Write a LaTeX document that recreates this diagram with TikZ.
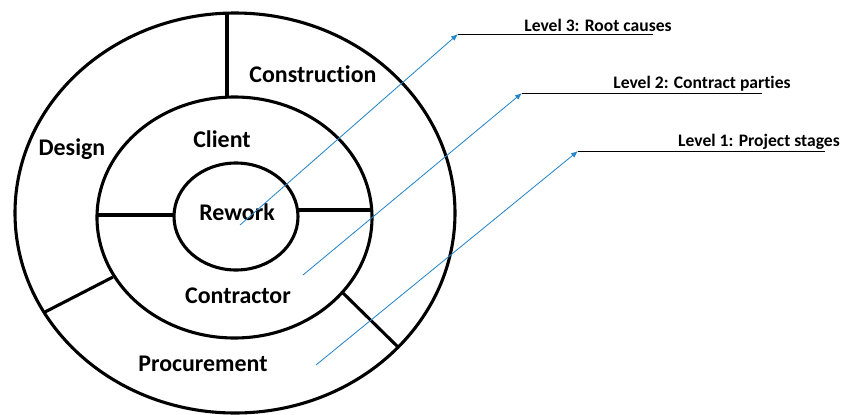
\documentclass[tikz,border=0pt]{standalone}
\usepackage{fontspec}
\setmainfont{Carlito}[Ligatures=NoCommon]
\usetikzlibrary{arrows.meta}
\definecolor{leaderblue}{RGB}{38,134,201}

\tikzset{
  ring/.style={line width=2.2pt},
  partname/.style={font=\fontsize{17}{20}\selectfont\bfseries, inner sep=0pt, anchor=base},
  levelname/.style={font=\fontsize{12.5}{15}\selectfont\bfseries, inner sep=0pt, anchor=base},
  leader/.style={leaderblue, line width=0.6pt, -{Latex[length=5pt,width=4pt]}},
  baseline rule/.style={line width=0.7pt}
}

\begin{document}
\begin{tikzpicture}[x=0.025cm,y=-0.025cm]
  \useasboundingbox (0,0) rectangle (844,415);
  \draw[ring] (235,213) ellipse [x radius=220, y radius=200];
  \draw[ring] (234.5,217.5) ellipse [x radius=137.5, y radius=120.5];
  \draw[ring] (236,216.5) ellipse [x radius=62, y radius=53.5];
  \draw[ring] (227,13) -- (227,97);
  \draw[ring] (97,215) -- (174,215);
  \draw[ring] (298,210) -- (372,210);
  \draw[ring] (113,277) -- (45,312);
  \draw[ring] (343,293) -- (398,347);

  \node[partname] (construction) at (313,82) {Construction};
  \node[partname] (design) at (72,155) {Design};
  \node[partname] (client) at (222,147) {Client};
  \node[partname] (rework) at (237,220) {Rework};
  \node[partname] (contractor) at (238,303) {Contractor};
  \node[partname] (procurement) at (203,371) {Procurement};

  \coordinate (l3from) at (240,225);
  \coordinate (l3to) at (458,34);
  \coordinate (l3end) at (653,34);
  \coordinate (l2from) at (303,275);
  \coordinate (l2to) at (522,93);
  \coordinate (l2end) at (762,93);
  \coordinate (l1from) at (316,365);
  \coordinate (l1to) at (578,151);
  \coordinate (l1end) at (825,151);

  \draw[leader] (l3from) -- (l3to);
  \draw[baseline rule] (l3to) -- (l3end);
  \node[levelname] (level3) at (598,31) {Level 3: Root causes};
  \draw[leader] (l2from) -- (l2to);
  \draw[baseline rule] (l2to) -- (l2end);
  \node[levelname] (level2) at (702,88) {Level 2: Contract parties};
  \draw[leader] (l1from) -- (l1to);
  \draw[baseline rule] (l1to) -- (l1end);
  \node[levelname] (level1) at (759,146) {Level 1: Project stages};
\end{tikzpicture}
\end{document}
